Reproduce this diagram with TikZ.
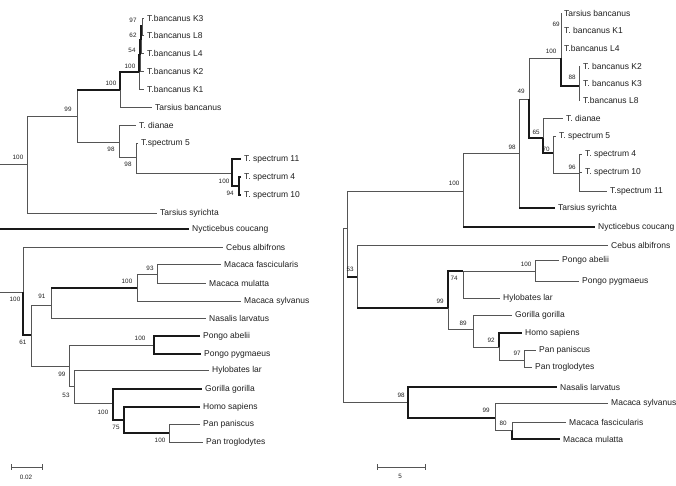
\documentclass[tikz,border=0pt]{standalone}
\usepackage{fontspec}
\setmainfont{Liberation Sans}
\usetikzlibrary{positioning}
\definecolor{treeline}{RGB}{85,85,85}
\definecolor{treedark}{RGB}{25,25,25}
\definecolor{treetext}{RGB}{30,30,30}

\begin{document}
\begin{tikzpicture}[x=1pt, y=-1pt,
  br/.style={draw=treeline, line width=0.6pt},
  tb/.style={draw=treedark, line width=1.05pt},
  leaf/.style={anchor=west, inner xsep=3pt, inner ysep=0pt,
               font=\fontsize{8.5}{9}\selectfont, text=treetext},
  bs/.style={inner sep=0pt, font=\fontsize{6.3}{7}\selectfont, text=treetext},
  sbar/.style={draw=treeline, line width=0.7pt}
]
\useasboundingbox (0,0) rectangle (676,486);

% ---- left tree: leaves
\node[leaf] (lK3) at (144,18) {T.bancanus K3};
\node[leaf] (lL8) at (144,35) {T.bancanus L8};
\node[leaf] (lL4) at (144,53) {T.bancanus L4};
\node[leaf] (lK2) at (144,71) {T.bancanus K2};
\node[leaf] (lK1) at (144,89) {T.bancanus K1};
\node[leaf] (lTban) at (152,107) {Tarsius bancanus};
\node[leaf] (lTdia) at (136,125) {T. dianae};
\node[leaf] (lTs5) at (138,143) {T.spectrum 5};
\node[leaf] (lTs11) at (241,159) {T. spectrum 11};
\node[leaf] (lTs4) at (241,177) {T. spectrum 4};
\node[leaf] (lTs10) at (241,195) {T. spectrum 10};
\node[leaf] (lTsyr) at (157,213) {Tarsius syrichta};
\node[leaf] (lNyc) at (189,229) {Nycticebus coucang};
\node[leaf] (lCeb) at (223,247) {Cebus albifrons};
\node[leaf] (lMfa) at (221,264) {Macaca fascicularis};
\node[leaf] (lMmu) at (206,283) {Macaca mulatta};
\node[leaf] (lMsy) at (241,301) {Macaca sylvanus};
\node[leaf] (lNas) at (206,318) {Nasalis larvatus};
\node[leaf] (lPab) at (200,336) {Pongo abelii};
\node[leaf] (lPpy) at (201,354) {Pongo pygmaeus};
\node[leaf] (lHyl) at (209,370) {Hylobates lar};
\node[leaf] (lGor) at (202,389) {Gorilla gorilla};
\node[leaf] (lHom) at (200,407) {Homo sapiens};
\node[leaf] (lPpa) at (200,424) {Pan paniscus};
\node[leaf] (lPtr) at (203,442) {Pan troglodytes};

% ---- left tree: inner nodes
\coordinate (Ls1) at (0,164);
\coordinate (Ln100) at (27,164);
\coordinate (Ln99) at (77,116);
\coordinate (Lnbc) at (120,90);
\coordinate (Lnk) at (139,72);
\coordinate (Ln54) at (140,55);
\coordinate (Ln62) at (141,40);
\coordinate (Ln97) at (142,26);
\coordinate (Ln98a) at (119,142);
\coordinate (Ln98b) at (136,157);
\coordinate (Lnsp) at (232,173);
\coordinate (Ln94) at (239,186);
\coordinate (Ls2) at (0,229);
\coordinate (Ls3) at (0,292);
\coordinate (Lnpr) at (23,292);
\coordinate (Ln61) at (31,335);
\coordinate (Ln91) at (51,305);
\coordinate (Lnmc) at (137,288);
\coordinate (Ln93) at (157,274);
\coordinate (Ln99h) at (69,366);
\coordinate (Lnpo) at (154,345);
\coordinate (Ln53) at (74,386);
\coordinate (Lnaf) at (113,403);
\coordinate (Ln75) at (124,420);
\coordinate (Lnpa) at (169,433);

\draw[br] (Ls1) -- (Ln100) (Ln100) |- (Ln99) (Ln100) |- (lTsyr.west);
\draw[br] (Ln99) |- (Ln98a) (Ln99) |- (Lnbc) (Lnbc) |- (lTban.west);
\draw[tb] (Ln99 |- Lnbc) -- (Lnbc) (Lnbc) |- (Lnk);
\draw[tb] (Lnk) |- (Ln54) (Ln54) |- (Ln62) (Ln62) |- (Ln97);
\draw[br] (Lnk) |- (lK1.west) (Ln54) |- (lK2.west) (Ln62) |- (lL4.west)
          (Ln97) |- (lL8.west) (Ln97) |- (lK3.west);
\draw[br] (Ln98a) |- (lTdia.west) (Ln98a) |- (Ln98b) (Ln98b) |- (lTs5.west)
          (Ln98b) |- (Lnsp);
\draw[tb] (Lnsp) |- (lTs11.west) (Lnsp) |- (Ln94) (Ln94) |- (lTs4.west)
          (Ln94) |- (lTs10.west);
\draw[tb] (Ls2) -- (lNyc.west);

\draw[br] (Ls3) -- (Lnpr) (Lnpr) |- (lCeb.west);
\draw[tb] (Lnpr) |- (Ln61);
\draw[br] (Ln61) |- (Ln91) (Ln61) |- (Ln99h) (Ln91) |- (lNas.west)
          (Ln91) |- (Lnmc) (Lnmc) |- (lMsy.west) (Lnmc) |- (Ln93)
          (Ln93) |- (lMfa.west) (Ln93) |- (lMmu.west);
\draw[tb] (Ln91 |- Lnmc) -- (Lnmc);
\draw[br] (Ln99h) |- (Lnpo) (Ln99h) |- (Ln53) (Ln53) |- (lHyl.west)
          (Ln53) |- (Lnaf);
\draw[tb] (Lnpo) |- (lPab.west) (Lnpo) |- (lPpy.west) (Lnaf) |- (lGor.west)
          (Lnaf) |- (Ln75) (Ln75) |- (lHom.west) (Ln75) |- (Lnpa);
\draw[br] (Lnpa) |- (lPpa.west) (Lnpa) |- (lPtr.west);

% bootstrap values, left
\node[bs] (bL1) at (133,20) {97};
\node[bs] (bL2) at (133,35) {62};
\node[bs] (bL3) at (132,50) {54};
\node[bs] (bL4) at (130,66) {100};
\node[bs] (bL5) at (111,83) {100};
\node[bs] (bL6) at (68,109) {99};
\node[bs] (bL7) at (18,157) {100};
\node[bs] (bL8) at (111,149) {98};
\node[bs] (bL9) at (128,164) {98};
\node[bs] (bL10) at (224,181) {100};
\node[bs] (bL11) at (230,193) {94};
\node[bs] (bL12) at (15,299) {100};
\node[bs] (bL13) at (42,296) {91};
\node[bs] (bL14) at (127,281) {100};
\node[bs] (bL15) at (150,268) {93};
\node[bs] (bL16) at (23,342) {61};
\node[bs] (bL17) at (140,338) {100};
\node[bs] (bL18) at (62,374) {99};
\node[bs] (bL19) at (66,395) {53};
\node[bs] (bL20) at (103,412) {100};
\node[bs] (bL21) at (116,427) {75};
\node[bs] (bL22) at (160,440) {100};

% scale bar, left
\coordinate (sbL1) at (11,467);
\coordinate (sbL2) at (42,467);
\draw[sbar] (sbL1) -- (sbL2) (sbL1) ++(0,-3) -- ++(0,6) (sbL2) ++(0,-3) -- ++(0,6);
\node[bs] (sbLt) at (26,477) {0.02};

% ---- right tree: leaves
\node[leaf] (rTban) at (561,13) {Tarsius bancanus};
\node[leaf] (rK1) at (561,30) {T. bancanus K1};
\node[leaf] (rL4) at (561,48) {T.bancanus L4};
\node[leaf] (rK2) at (580,66) {T. bancanus K2};
\node[leaf] (rK3) at (580,83) {T. bancanus K3};
\node[leaf] (rL8) at (580,100) {T.bancanus L8};
\node[leaf] (rTdia) at (563,118) {T. dianae};
\node[leaf] (rTs5) at (556,136) {T. spectrum 5};
\node[leaf] (rTs4) at (582,154) {T. spectrum 4};
\node[leaf] (rTs10) at (582,172) {T. spectrum 10};
\node[leaf] (rTs11) at (607,191) {T.spectrum 11};
\node[leaf] (rTsyr) at (555,208) {Tarsius syrichta};
\node[leaf] (rNyc) at (595,227) {Nycticebus coucang};
\node[leaf] (rCeb) at (608,245) {Cebus albifrons};
\node[leaf] (rPab) at (559,260) {Pongo abelii};
\node[leaf] (rPpy) at (579,281) {Pongo pygmaeus};
\node[leaf] (rHyl) at (500,298) {Hylobates lar};
\node[leaf] (rGor) at (512,315) {Gorilla gorilla};
\node[leaf] (rHom) at (522,333) {Homo sapiens};
\node[leaf] (rPpa) at (536,350) {Pan paniscus};
\node[leaf] (rPtr) at (532,367) {Pan troglodytes};
\node[leaf] (rNas) at (557,387) {Nasalis larvatus};
\node[leaf] (rMsy) at (608,403) {Macaca sylvanus};
\node[leaf] (rMfa) at (566,422) {Macaca fascicularis};
\node[leaf] (rMmu) at (560,439) {Macaca mulatta};

% ---- right tree: inner nodes
\coordinate (Rroot) at (343,315);
\coordinate (Rx) at (347,228);
\coordinate (Rn100) at (463,191);
\coordinate (Rn98) at (519,153);
\coordinate (Rn49) at (529,99);
\coordinate (Rnbc) at (561,58);
\coordinate (Rn88) at (579,86);
\coordinate (Rn65) at (543,138);
\coordinate (Rn70) at (553,153);
\coordinate (Rn96) at (579,173);
\coordinate (Rn53) at (357,277);
\coordinate (Rn99) at (448,308);
\coordinate (Rn74) at (463,271);
\coordinate (Rnpo) at (535,271);
\coordinate (Rn89) at (473,329);
\coordinate (Rn92) at (499,347);
\coordinate (Rn97) at (524,360);
\coordinate (Rn98m) at (408,402);
\coordinate (Rn99m) at (495,418);
\coordinate (Rn80) at (512,430);

\draw[br] (Rroot) |- (Rx) (Rroot) |- (Rn98m) (Rx) |- (Rn100) (Rx) |- (Rn53);
\draw[tb] (Rx |- Rn53) -- (Rn53);
\draw[br] (Rn100) |- (Rn98) (Rn98) |- (Rn49) (Rn49) |- (Rnbc)
          (Rnbc) |- (rTban.west) (Rnbc) |- (rK1.west) (Rnbc) |- (rL4.west)
          (Rn100) |- (rNyc.west) (Rn98) |- (rTsyr.west);
\draw[tb] (Rn100 |- rNyc.west) -- (rNyc.west) (Rn98 |- rTsyr.west) -- (rTsyr.west)
          (Rnbc) |- (Rn88) (Rn49) |- (Rn65) (Rn65) |- (Rn70);
\draw[br] (Rn88) |- (rK2.west) (Rn88) |- (rK3.west) (Rn88) |- (rL8.west)
          (Rn65) |- (rTdia.west) (Rn70) |- (rTs5.west) (Rn70) |- (Rn96)
          (Rn96) |- (rTs4.west) (Rn96) |- (rTs10.west) (Rn96) |- (rTs11.west);
\draw[br] (Rn53) |- (rCeb.west) (Rn53) |- (Rn99);
\draw[tb] (Rn53 |- Rn99) -- (Rn99) (Rn99) |- (Rn74);
\draw[br] (Rn74) |- (Rnpo) (Rn74) |- (rHyl.west) (Rnpo) |- (rPab.west)
          (Rnpo) |- (rPpy.west) (Rn99) |- (Rn89) (Rn89) |- (rGor.west)
          (Rn89) |- (Rn92) (Rn92) |- (Rn97) (Rn97) |- (rPpa.west)
          (Rn97) |- (rPtr.west);
\draw[tb] (Rn92) |- (rHom.west);
\draw[tb] (Rn98m) |- (rNas.west) (Rn98m) |- (Rn99m) (Rn80) |- (rMmu.west);
\draw[br] (Rn99m) |- (rMsy.west) (Rn99m) |- (Rn80) (Rn80) |- (rMfa.west);

% bootstrap values, right
\node[bs] (bR1) at (556,24) {69};
\node[bs] (bR2) at (551,51) {100};
\node[bs] (bR3) at (572,77) {88};
\node[bs] (bR4) at (521,91) {49};
\node[bs] (bR5) at (536,132) {65};
\node[bs] (bR6) at (546,149) {70};
\node[bs] (bR7) at (572,167) {96};
\node[bs] (bR8) at (512,147) {98};
\node[bs] (bR9) at (454,183) {100};
\node[bs] (bR10) at (350,269) {53};
\node[bs] (bR11) at (526,264) {100};
\node[bs] (bR12) at (454,278) {74};
\node[bs] (bR13) at (440,301) {99};
\node[bs] (bR14) at (463,323) {89};
\node[bs] (bR15) at (491,340) {92};
\node[bs] (bR16) at (517,353) {97};
\node[bs] (bR17) at (401,395) {98};
\node[bs] (bR18) at (486,410) {99};
\node[bs] (bR19) at (503,423) {80};

% scale bar, right
\coordinate (sbR1) at (377,467);
\coordinate (sbR2) at (425,467);
\draw[sbar] (sbR1) -- (sbR2) (sbR1) ++(0,-3) -- ++(0,6) (sbR2) ++(0,-3) -- ++(0,6);
\node[bs] (sbRt) at (400,476) {5};
\end{tikzpicture}
\end{document}
